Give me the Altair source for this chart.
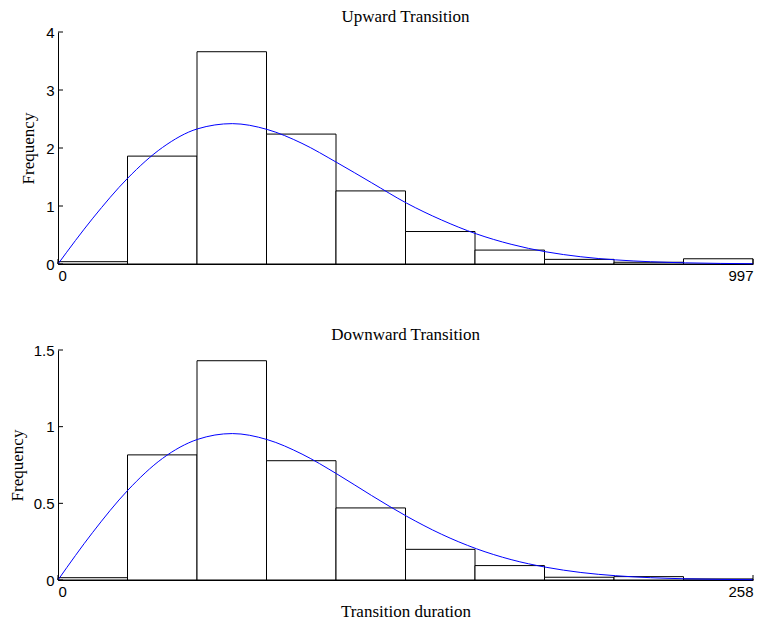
import altair as alt
import numpy as np
import pandas as pd

# ---- data ----
up_max = 997
up_freq = [0.04, 1.86, 3.66, 2.24, 1.26, 0.56, 0.24, 0.08, 0.03, 0.09]
up_curve_x = [0, 50, 100, 150, 200, 250, 300, 350, 400, 450, 500, 550, 600,
              650, 700, 750, 800, 850, 900, 950, 997]
up_curve_y = [0, 0.79, 1.48, 2.01, 2.33, 2.42, 2.32, 2.08, 1.75, 1.40, 1.05,
              0.76, 0.52, 0.34, 0.21, 0.125, 0.071, 0.039, 0.020, 0.010, 0.005]
up_yticks = [0, 1, 2, 3, 4]

down_max = 258
down_freq = [0.015, 0.816, 1.43, 0.778, 0.47, 0.20, 0.094, 0.018, 0.022, 0.007]
down_curve_x = [0, 12.9, 25.9, 38.8, 51.8, 64.7, 77.6, 90.6, 103.5, 116.4, 129.4,
                142.3, 155.3, 168.2, 181.2, 194.1, 207.0, 220.0, 232.9, 245.8, 258]
down_curve_y = [0, 0.311, 0.585, 0.793, 0.917, 0.955, 0.916, 0.821, 0.692, 0.551,
                0.416, 0.299, 0.204, 0.133, 0.083, 0.049, 0.028, 0.015, 0.008,
                0.004, 0.002]
down_yticks = [0, 0.5, 1, 1.5]

W = 695


def panel(title, xmax, freq, cx, cy, yticks, ymax, height, xtitle, tpad):
    edges = np.linspace(0, xmax, len(freq) + 1)
    bars = pd.DataFrame({"x0": edges[:-1], "x1": edges[1:], "f": freq})
    curve = pd.DataFrame({"x": cx, "y": cy})
    xs = alt.Scale(domain=[0, xmax], nice=False, zero=False)
    ys = alt.Scale(domain=[0, ymax], nice=False)
    xaxis = alt.Axis(values=[0, xmax], format="d", tickSize=0, labelPadding=4,
                     title=xtitle if xtitle else None)
    yaxis = alt.Axis(values=yticks, format=".1~f", tickSize=0, labelPadding=4,
                     title="Frequency", titlePadding=tpad)
    b = alt.Chart(bars).mark_rect(fill="white", stroke="black", strokeWidth=1).encode(
        x=alt.X("x0:Q", scale=xs, axis=xaxis),
        x2="x1:Q",
        y=alt.Y("f:Q", scale=ys, axis=yaxis),
        y2=alt.datum(0),
    )
    c = alt.Chart(curve).mark_line(color="#0000ff", strokeWidth=1,
                                   interpolate="monotone").encode(
        x=alt.X("x:Q", scale=xs), y=alt.Y("y:Q", scale=ys)
    )
    yt = alt.Chart(pd.DataFrame({"v": yticks})).mark_rule(color="black", strokeWidth=1).encode(
        y=alt.Y("v:Q", scale=ys), x=alt.value(0), x2=alt.value(5)
    )
    xt = alt.Chart(pd.DataFrame({"v": [0, xmax]})).mark_rule(color="black", strokeWidth=1).encode(
        x=alt.X("v:Q", scale=xs), y=alt.value(height), y2=alt.value(height - 5)
    )
    return alt.layer(b, c, yt, xt).properties(
        width=W, height=height,
        title=alt.TitleParams(title, font="Liberation Serif", fontSize=17,
                              fontWeight="normal", color="black", offset=-1),
    )


top = panel("Upward Transition", up_max, up_freq, up_curve_x, up_curve_y,
            up_yticks, 4, 232, None, 8)
bottom = panel("Downward Transition", down_max, down_freq, down_curve_x,
               down_curve_y, down_yticks, 1.5, 230, "Transition duration", 7)

chart = alt.vconcat(top, bottom, spacing=43).properties(padding=0).configure_view(
    stroke=None
).configure_axis(
    grid=False,
    domainColor="black",
    domainWidth=1,
    labelFont="Liberation Sans",
    labelFontSize=15,
    labelColor="black",
    titleFont="Liberation Serif",
    titleFontSize=17,
    titleFontWeight="normal",
    titleColor="black",
)

chart.save("out.html", embed_options={"renderer": "svg", "actions": False})
